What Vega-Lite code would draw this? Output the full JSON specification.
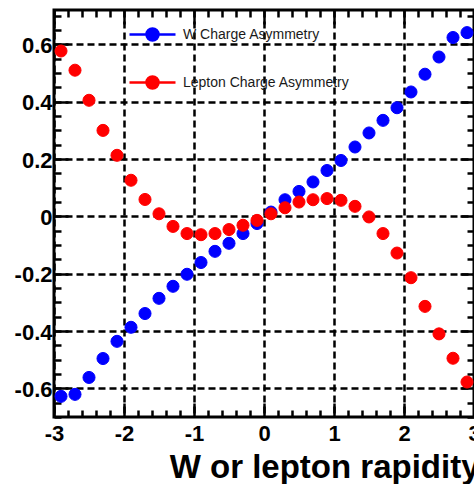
{
  "$schema": "https://vega.github.io/schema/vega-lite/v6.json",
  "width": 420,
  "height": 407,
  "autosize": {"type": "none"},
  "padding": {"left": 54, "top": 10, "right": 0, "bottom": 67},
  "background": "white",
  "config": {
    "view": {"stroke": "black", "strokeWidth": 3},
    "axis": {
      "domain": false,
      "labelFont": "Liberation Sans",
      "labelFontWeight": "bold",
      "labelFontSize": 22,
      "labelColor": "black",
      "titleFont": "Liberation Sans",
      "titleColor": "black"
    }
  },
  "data": {
    "values": [
      {"rapidity": -2.9, "asym": -0.628, "series": "W Charge Asymmetry"},
      {"rapidity": -2.7, "asym": -0.621, "series": "W Charge Asymmetry"},
      {"rapidity": -2.5, "asym": -0.562, "series": "W Charge Asymmetry"},
      {"rapidity": -2.3, "asym": -0.496, "series": "W Charge Asymmetry"},
      {"rapidity": -2.1, "asym": -0.436, "series": "W Charge Asymmetry"},
      {"rapidity": -1.9, "asym": -0.387, "series": "W Charge Asymmetry"},
      {"rapidity": -1.7, "asym": -0.339, "series": "W Charge Asymmetry"},
      {"rapidity": -1.5, "asym": -0.286, "series": "W Charge Asymmetry"},
      {"rapidity": -1.3, "asym": -0.244, "series": "W Charge Asymmetry"},
      {"rapidity": -1.1, "asym": -0.202, "series": "W Charge Asymmetry"},
      {"rapidity": -0.9, "asym": -0.161, "series": "W Charge Asymmetry"},
      {"rapidity": -0.7, "asym": -0.122, "series": "W Charge Asymmetry"},
      {"rapidity": -0.5, "asym": -0.094, "series": "W Charge Asymmetry"},
      {"rapidity": -0.3, "asym": -0.060, "series": "W Charge Asymmetry"},
      {"rapidity": -0.1, "asym": -0.025, "series": "W Charge Asymmetry"},
      {"rapidity": 0.1, "asym": 0.015, "series": "W Charge Asymmetry"},
      {"rapidity": 0.3, "asym": 0.058, "series": "W Charge Asymmetry"},
      {"rapidity": 0.5, "asym": 0.087, "series": "W Charge Asymmetry"},
      {"rapidity": 0.7, "asym": 0.120, "series": "W Charge Asymmetry"},
      {"rapidity": 0.9, "asym": 0.160, "series": "W Charge Asymmetry"},
      {"rapidity": 1.1, "asym": 0.195, "series": "W Charge Asymmetry"},
      {"rapidity": 1.3, "asym": 0.242, "series": "W Charge Asymmetry"},
      {"rapidity": 1.5, "asym": 0.291, "series": "W Charge Asymmetry"},
      {"rapidity": 1.7, "asym": 0.335, "series": "W Charge Asymmetry"},
      {"rapidity": 1.9, "asym": 0.379, "series": "W Charge Asymmetry"},
      {"rapidity": 2.1, "asym": 0.434, "series": "W Charge Asymmetry"},
      {"rapidity": 2.3, "asym": 0.496, "series": "W Charge Asymmetry"},
      {"rapidity": 2.5, "asym": 0.556, "series": "W Charge Asymmetry"},
      {"rapidity": 2.7, "asym": 0.624, "series": "W Charge Asymmetry"},
      {"rapidity": 2.9, "asym": 0.641, "series": "W Charge Asymmetry"},
      {"rapidity": -2.9, "asym": 0.577, "series": "Lepton Charge Asymmetry"},
      {"rapidity": -2.7, "asym": 0.510, "series": "Lepton Charge Asymmetry"},
      {"rapidity": -2.5, "asym": 0.405, "series": "Lepton Charge Asymmetry"},
      {"rapidity": -2.3, "asym": 0.300, "series": "Lepton Charge Asymmetry"},
      {"rapidity": -2.1, "asym": 0.213, "series": "Lepton Charge Asymmetry"},
      {"rapidity": -1.9, "asym": 0.126, "series": "Lepton Charge Asymmetry"},
      {"rapidity": -1.7, "asym": 0.059, "series": "Lepton Charge Asymmetry"},
      {"rapidity": -1.5, "asym": 0.009, "series": "Lepton Charge Asymmetry"},
      {"rapidity": -1.3, "asym": -0.035, "series": "Lepton Charge Asymmetry"},
      {"rapidity": -1.1, "asym": -0.060, "series": "Lepton Charge Asymmetry"},
      {"rapidity": -0.9, "asym": -0.064, "series": "Lepton Charge Asymmetry"},
      {"rapidity": -0.7, "asym": -0.060, "series": "Lepton Charge Asymmetry"},
      {"rapidity": -0.5, "asym": -0.046, "series": "Lepton Charge Asymmetry"},
      {"rapidity": -0.3, "asym": -0.031, "series": "Lepton Charge Asymmetry"},
      {"rapidity": -0.1, "asym": -0.014, "series": "Lepton Charge Asymmetry"},
      {"rapidity": 0.1, "asym": 0.009, "series": "Lepton Charge Asymmetry"},
      {"rapidity": 0.3, "asym": 0.030, "series": "Lepton Charge Asymmetry"},
      {"rapidity": 0.5, "asym": 0.050, "series": "Lepton Charge Asymmetry"},
      {"rapidity": 0.7, "asym": 0.058, "series": "Lepton Charge Asymmetry"},
      {"rapidity": 0.9, "asym": 0.062, "series": "Lepton Charge Asymmetry"},
      {"rapidity": 1.1, "asym": 0.056, "series": "Lepton Charge Asymmetry"},
      {"rapidity": 1.3, "asym": 0.035, "series": "Lepton Charge Asymmetry"},
      {"rapidity": 1.5, "asym": -0.002, "series": "Lepton Charge Asymmetry"},
      {"rapidity": 1.7, "asym": -0.060, "series": "Lepton Charge Asymmetry"},
      {"rapidity": 1.9, "asym": -0.128, "series": "Lepton Charge Asymmetry"},
      {"rapidity": 2.1, "asym": -0.214, "series": "Lepton Charge Asymmetry"},
      {"rapidity": 2.3, "asym": -0.314, "series": "Lepton Charge Asymmetry"},
      {"rapidity": 2.5, "asym": -0.410, "series": "Lepton Charge Asymmetry"},
      {"rapidity": 2.7, "asym": -0.495, "series": "Lepton Charge Asymmetry"},
      {"rapidity": 2.9, "asym": -0.578, "series": "Lepton Charge Asymmetry"}
    ]
  },
  "layer": [
    {
      "mark": {"type": "point", "opacity": 0},
      "encoding": {
        "x": {
          "field": "rapidity", "type": "quantitative",
          "scale": {"domain": [-3, 3], "nice": false, "zero": false},
          "axis": {
            "orient": "bottom", "labels": false, "grid": false, "ticks": true, "title": null,
            "values": [-3,-2.8,-2.6,-2.4,-2.2,-2,-1.8,-1.6,-1.4,-1.2,-1,-0.8,-0.6,-0.4,-0.2,0,0.2,0.4,0.6,0.8,1,1.2,1.4,1.6,1.8,2,2.2,2.4,2.6,2.8,3],
            "tickColor": "black", "tickWidth": 2.5,
            "tickSize": {"condition": {"test": "abs(datum.value - round(datum.value)) < 0.001", "value": -14}, "value": -7}
          }
        },
        "y": {
          "field": "asym", "type": "quantitative",
          "scale": {"domain": [-0.7, 0.72], "nice": false, "zero": false},
          "axis": {
            "orient": "left", "labels": false, "grid": false, "ticks": true, "title": null,
            "values": [-0.7,-0.65,-0.6,-0.55,-0.5,-0.45,-0.4,-0.35,-0.3,-0.25,-0.2,-0.15,-0.1,-0.05,0,0.05,0.1,0.15,0.2,0.25,0.3,0.35,0.4,0.45,0.5,0.55,0.6,0.65,0.7],
            "tickColor": "black", "tickWidth": 2.5,
            "tickSize": {"condition": {"test": "abs(datum.value * 5 - round(datum.value * 5)) < 0.001", "value": -14}, "value": -7}
          }
        }
      }
    },
    {
      "mark": {"type": "point", "opacity": 0},
      "encoding": {
        "x": {
          "field": "rapidity", "type": "quantitative",
          "axis": {
            "orient": "top", "labels": false, "grid": false, "ticks": true, "title": null,
            "values": [-3,-2.8,-2.6,-2.4,-2.2,-2,-1.8,-1.6,-1.4,-1.2,-1,-0.8,-0.6,-0.4,-0.2,0,0.2,0.4,0.6,0.8,1,1.2,1.4,1.6,1.8,2,2.2,2.4,2.6,2.8,3],
            "tickColor": "black", "tickWidth": 2.5,
            "tickSize": {"condition": {"test": "abs(datum.value - round(datum.value)) < 0.001", "value": -14}, "value": -7}
          }
        },
        "y": {
          "field": "asym", "type": "quantitative",
          "axis": {
            "orient": "right", "labels": false, "grid": false, "ticks": true, "title": null,
            "values": [-0.7,-0.65,-0.6,-0.55,-0.5,-0.45,-0.4,-0.35,-0.3,-0.25,-0.2,-0.15,-0.1,-0.05,0,0.05,0.1,0.15,0.2,0.25,0.3,0.35,0.4,0.45,0.5,0.55,0.6,0.65,0.7],
            "tickColor": "black", "tickWidth": 2.5,
            "tickSize": {"condition": {"test": "abs(datum.value * 5 - round(datum.value * 5)) < 0.001", "value": -14}, "value": -7}
          }
        }
      }
    },
    {
      "mark": {"type": "point", "filled": true, "size": 145, "opacity": 1, "strokeWidth": 1},
      "encoding": {
        "x": {
          "field": "rapidity", "type": "quantitative",
          "axis": {
            "orient": "bottom", "values": [-3,-2,-1,0,1,2,3], "ticks": false,
            "grid": true, "gridColor": "black", "gridDash": [7, 4], "gridWidth": 2.5,
            "labelFlush": false, "labelOverlap": false, "labelPadding": 6,
            "labelExpr": "'' + datum.value",
            "title": "W or lepton rapidity", "titleFontSize": 33, "titleFontWeight": "bold",
            "titleAlign": "right", "titleAnchor": "end", "titleX": 425, "titleY": 60, "titleBaseline": "alphabetic"
          }
        },
        "y": {
          "field": "asym", "type": "quantitative",
          "axis": {
            "orient": "left", "values": [-0.6,-0.4,-0.2,0,0.2,0.4,0.6], "ticks": false,
            "grid": true, "gridColor": "black", "gridDash": [7, 4], "gridWidth": 2.5,
            "labelPadding": 2, "labelOffset": 1, "labelExpr": "'' + datum.value",
            "title": null
          }
        },
        "fill": {
          "field": "series", "type": "nominal",
          "scale": {"domain": ["W Charge Asymmetry", "Lepton Charge Asymmetry"], "range": ["#0000ff", "#ff0000"]},
          "legend": {
            "orient": "none", "legendX": 87, "legendY": 13, "title": null, "padding": 0,
            "symbolType": "M-2.3,0L2.3,0M-0.6,0A0.6,0.6 0 1,1 0.6,0A0.6,0.6 0 1,1 -0.6,0Z",
            "symbolSize": 400, "symbolStrokeWidth": 2.5,
            "labelFont": "Liberation Sans", "labelFontSize": 14, "labelColor": "#1a1a1a", "labelLimit": 400,
            "rowPadding": 25, "labelOffset": 19
          }
        },
        "stroke": {
          "field": "series", "type": "nominal",
          "scale": {"domain": ["W Charge Asymmetry", "Lepton Charge Asymmetry"], "range": ["#0000ff", "#ff0000"]},
          "legend": {
            "orient": "none", "legendX": 87, "legendY": 13, "title": null, "padding": 0,
            "symbolType": "M-2.3,0L2.3,0M-0.6,0A0.6,0.6 0 1,1 0.6,0A0.6,0.6 0 1,1 -0.6,0Z",
            "symbolSize": 400, "symbolStrokeWidth": 2.5,
            "labelFont": "Liberation Sans", "labelFontSize": 14, "labelColor": "#1a1a1a", "labelLimit": 400,
            "rowPadding": 25, "labelOffset": 19
          }
        }
      }
    }
  ],
  "resolve": {"axis": {"x": "independent", "y": "independent"}}
}
